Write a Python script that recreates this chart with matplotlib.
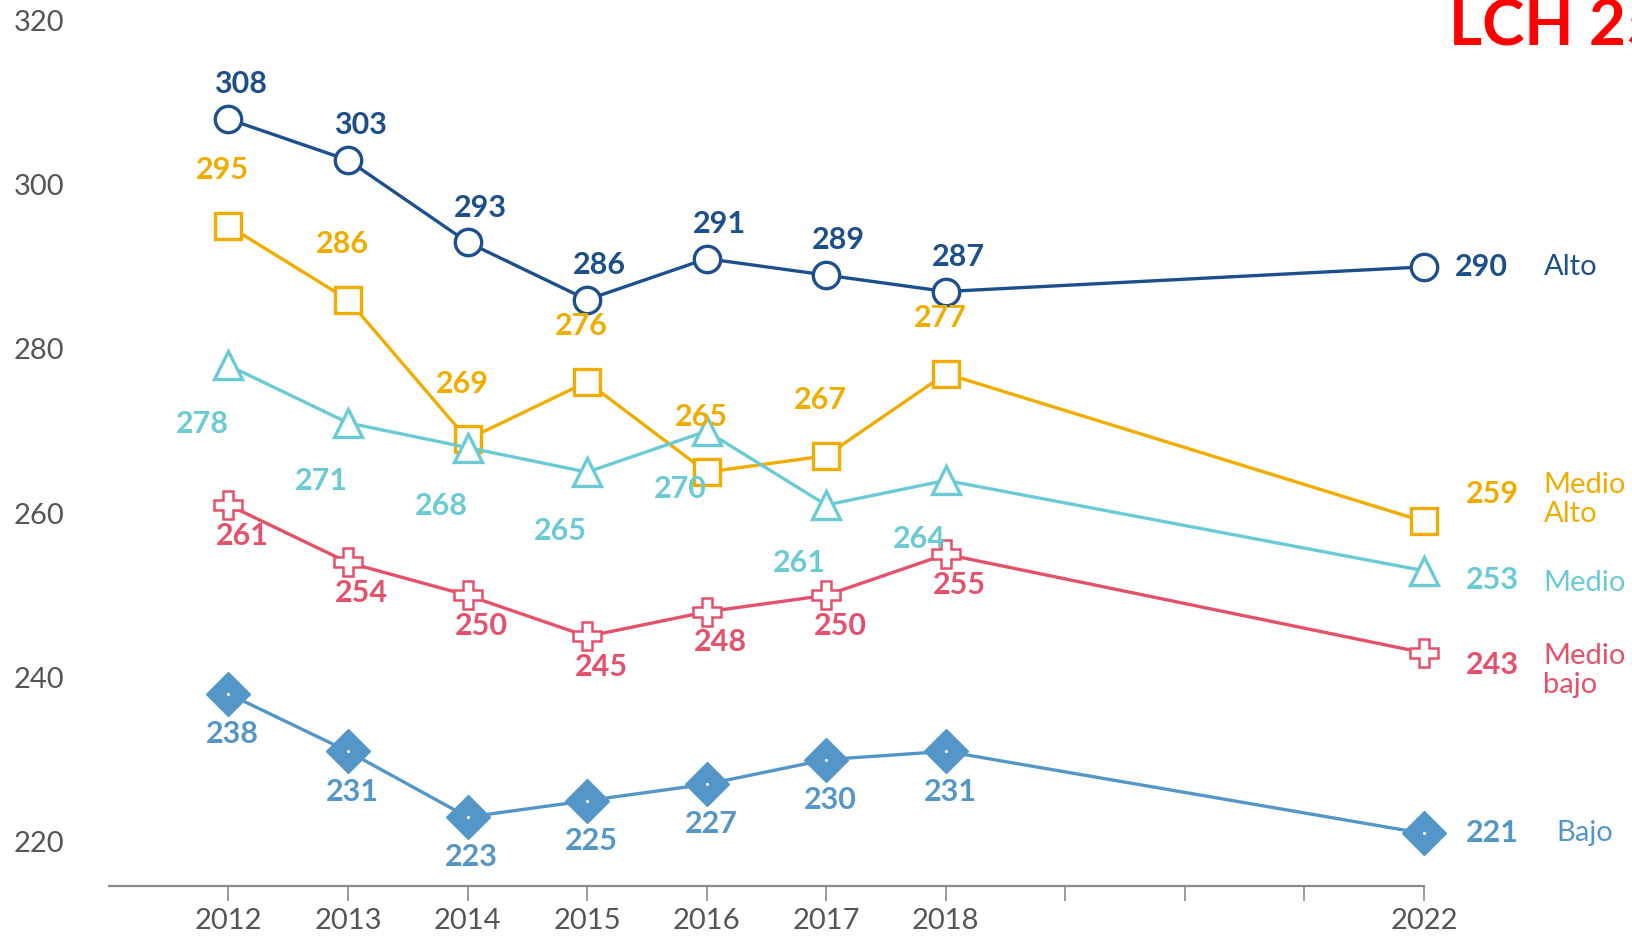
import numpy as np
import matplotlib
matplotlib.use("Agg")
import matplotlib.pyplot as plt

plt.rcParams['font.family'] = ['Lato', 'DejaVu Sans']

# data
years = [2012, 2013, 2014, 2015, 2016, 2017, 2018, 2022]
names = ["Alto", "Medio\nAlto", "Medio", "Medio\nbajo", "Bajo"]
alto = [308, 303, 293, 286, 291, 289, 287, 290]
medio_alto = [295, 286, 269, 276, 265, 267, 277, 259]
medio = [278, 271, 268, 265, 270, 261, 264, 253]
medio_bajo = [261, 254, 250, 245, 248, 250, 255, 243]
bajo = [238, 231, 223, 225, 227, 230, 231, 221]
y_ticks = [220, 240, 260, 280, 300, 320]
x_ticks = [2012, 2013, 2014, 2015, 2016, 2017, 2018, 2019, 2020, 2021, 2022]
x_labels = ["2012", "2013", "2014", "2015", "2016", "2017", "2018", "", "", "", "2022"]

series = [alto, medio_alto, medio, medio_bajo, bajo]
colors = ["#1c4f8b", "#f0ad00", "#6acbd5", "#e5506a", "#5596c9"]
markers = ["o", "s", "^", "P", "D"]
msizes = [19, 19, 20, 20, 22]
# label offsets (points) for 2012-2018 points
lab_off = [(9, 25), (-4, 40), (-19, -42), (10, -22), (3, -29)]
# end value / name offsets (points) at 2022
end_off = [(22, 0), (30, 20), (30, -7), (30, -9), (30, 0)]
name_off = [(86, 0), (86, 16), (86, -9), (86, -13), (95, 0)]

fig = plt.figure(figsize=(16.33, 9.38), dpi=100)
ax = fig.add_axes([0.0667, 0.0554, 0.872 - 0.0667, 1 - 0.0554])
ax.set_xlim(2011, 2022)
ax.set_ylim(214.6, 322.5)

for vals, c, m, ms in zip(series, colors, markers, msizes):
    if m == "D":
        ax.plot(years, vals, color=c, lw=2.4, marker=m, ms=ms, mfc=c, mec=c,
                clip_on=False, zorder=3)
        ax.plot(years, vals, ls="none", marker=".", ms=2.5, color="white",
                clip_on=False, zorder=4)
    else:
        mew = 1.8 if m == "P" else 2.4
        ax.plot(years, vals, color=c, lw=2.4, marker=m, ms=ms, mfc="white",
                mec=c, mew=mew, clip_on=False, zorder=3)

for i, (vals, c) in enumerate(zip(series, colors)):
    dx, dy = lab_off[i]
    for x, v in zip(years[:-1], vals[:-1]):
        ax.annotate(str(v), (x, v), xytext=(dx, dy), textcoords="offset points",
                    ha="center", va="center", color=c, fontsize=22,
                    fontweight="bold", zorder=5)
    ex, ey = end_off[i]
    ax.annotate(str(vals[-1]), (years[-1], vals[-1]), xytext=(ex, ey),
                textcoords="offset points", ha="left", va="center", color=c,
                fontsize=22, fontweight="bold", annotation_clip=False)
    nx, ny = name_off[i]
    ax.annotate(names[i], (years[-1], vals[-1]), xytext=(nx, ny),
                textcoords="offset points", ha="left", va="center", color=c,
                fontsize=21, linespacing=1.15, annotation_clip=False)

for s in ["top", "right", "left"]:
    ax.spines[s].set_visible(False)
ax.spines["bottom"].set_color("#8a8a8a")
ax.spines["bottom"].set_linewidth(1.6)

ax.set_yticks(y_ticks)
ax.set_yticklabels([str(t) for t in y_ticks])
ax.tick_params(axis="y", length=0, pad=32, labelsize=21, labelcolor="#555555")
ax.set_xticks(x_ticks)
ax.set_xticklabels(x_labels)
ax.tick_params(axis="x", length=11, width=1.2, color="#8a8a8a", direction="out",
               pad=5, labelsize=21, labelcolor="#555555")

# red tag in the corner, cut by the right edge as in the source image
fig.text(0.8875, 0.952, "LCH 25", color="#ff0000", fontsize=46,
         fontweight="bold", va="baseline")

fig.savefig("out.png", dpi=100)
